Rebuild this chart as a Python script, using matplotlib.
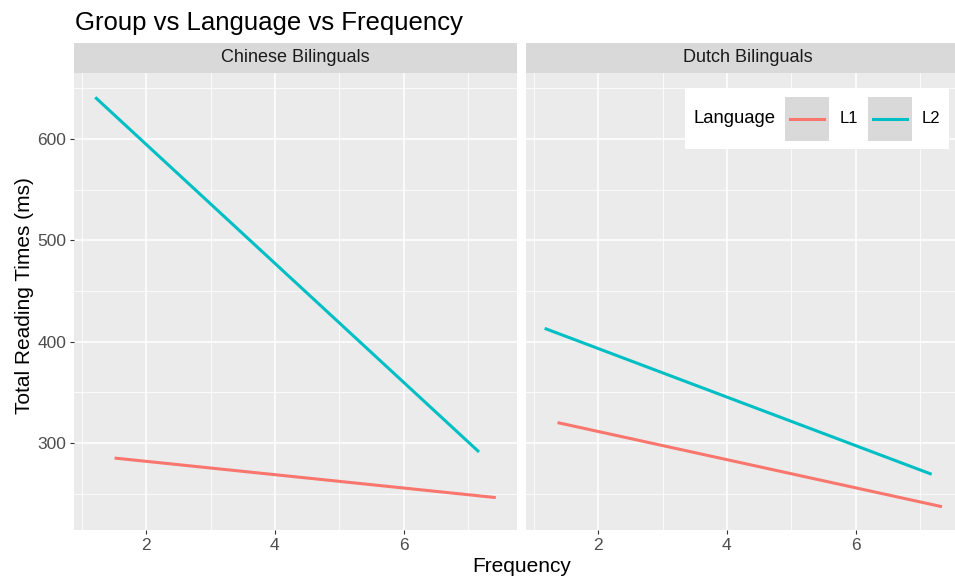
import numpy as np
import matplotlib
matplotlib.use("Agg")
import matplotlib.pyplot as plt
from matplotlib.offsetbox import TextArea, DrawingArea, HPacker, AnchoredOffsetbox
from matplotlib.patches import Rectangle
from matplotlib.lines import Line2D

plt.rcParams['font.family'] = ['Liberation Sans', 'DejaVu Sans']

# fitted lines, two end points each (Frequency, Total Reading Time in ms)
groups = ["Chinese Bilinguals", "Dutch Bilinguals"]
languages = ["L1", "L2"]
colors = ["#F8766D", "#00BFC4"]

chinese_l1_freq = [1.51, 7.43]
chinese_l1_rt = [285, 246]
chinese_l2_freq = [1.21, 7.17]
chinese_l2_rt = [641, 291]
dutch_l1_freq = [1.37, 7.34]
dutch_l1_rt = [320, 237]
dutch_l2_freq = [1.17, 7.18]
dutch_l2_rt = [413, 269]

x_ticks = [2, 4, 6]
y_ticks = [300, 400, 500, 600]

lines = {
    "Chinese Bilinguals": [(chinese_l1_freq, chinese_l1_rt), (chinese_l2_freq, chinese_l2_rt)],
    "Dutch Bilinguals": [(dutch_l1_freq, dutch_l1_rt), (dutch_l2_freq, dutch_l2_rt)],
}

W, H = 955, 579
fig = plt.figure(figsize=(W / 100, H / 100), dpi=100)

panel_w = 443
lefts = [74, 526]
top, bottom = 73, 530
strip_top = 43

axes = []
for i, g in enumerate(groups):
    ax = fig.add_axes([lefts[i] / W, 1 - bottom / H, panel_w / W, (bottom - top) / H])
    ax.set_facecolor("#EBEBEB")
    for s in ax.spines.values():
        s.set_visible(False)
    ax.set_xlim(0.88, 7.76)
    ax.set_ylim(214, 665)
    ax.set_xticks(x_ticks)
    ax.set_yticks(y_ticks)
    ax.set_xticks([1, 3, 5, 7], minor=True)
    ax.set_yticks([250, 350, 450, 550, 650], minor=True)
    ax.grid(True, which="major", color="white", lw=1.1)
    ax.grid(True, which="minor", color="white", lw=0.55)
    ax.set_axisbelow(True)
    ax.tick_params(which="major", length=3, width=0.8, color="#333333",
                   labelsize=12.5, labelcolor="#4D4D4D", pad=2.5)
    ax.tick_params(which="minor", length=0)
    if i == 1:
        ax.tick_params(axis="y", which="major", length=0, labelleft=False)
    for (fx, rt), c in zip(lines[g], colors):
        ax.plot(fx, rt, color=c, lw=2.2, solid_capstyle="butt")

    sax = fig.add_axes([lefts[i] / W, 1 - top / H, panel_w / W, (top - strip_top) / H])
    sax.set_facecolor("#D9D9D9")
    sax.set_xticks([])
    sax.set_yticks([])
    for s in sax.spines.values():
        s.set_visible(False)
    sax.text(0.5, 0.5, g, ha="center", va="center", fontsize=13, color="#1A1A1A",
             transform=sax.transAxes)
    axes.append(ax)

fig.text(75 / W, 1 - 30 / H, "Group vs Language vs Frequency", fontsize=18.5,
         ha="left", va="baseline", color="black")
fig.text(522 / W, 1 - 566 / H, "Frequency", fontsize=15, ha="center", va="center")
fig.text(24 / W, 1 - 296 / H, "Total Reading Times (ms)", fontsize=15,
         ha="center", va="center", rotation=90)

# legend, ggplot style with grey key boxes
key = 31.7
items = [TextArea("Language", textprops=dict(fontsize=13.3, color="black"))]
for lang, c in zip(languages, colors):
    da = DrawingArea(key, key, 0, 0)
    da.add_artist(Rectangle((0, 0), key, key, fc="#D9D9D9", ec="none"))
    da.add_artist(Line2D([3.6, key - 3.6], [key / 2, key / 2], color=c, lw=2.2))
    items.append(da)
    items.append(TextArea(lang, textprops=dict(fontsize=12, color="black")))
pack = HPacker(children=items, align="center", pad=0, sep=7.2)
leg = AnchoredOffsetbox(loc="upper right", child=pack, pad=0.62, borderpad=0,
                        frameon=True, bbox_to_anchor=(949 / W, 1 - 88 / H),
                        bbox_transform=fig.transFigure)
leg.patch.set_facecolor("white")
leg.patch.set_edgecolor("none")
leg.patch.set_boxstyle("square", pad=0)
fig.add_artist(leg)

fig.savefig("out.png", dpi=100)
